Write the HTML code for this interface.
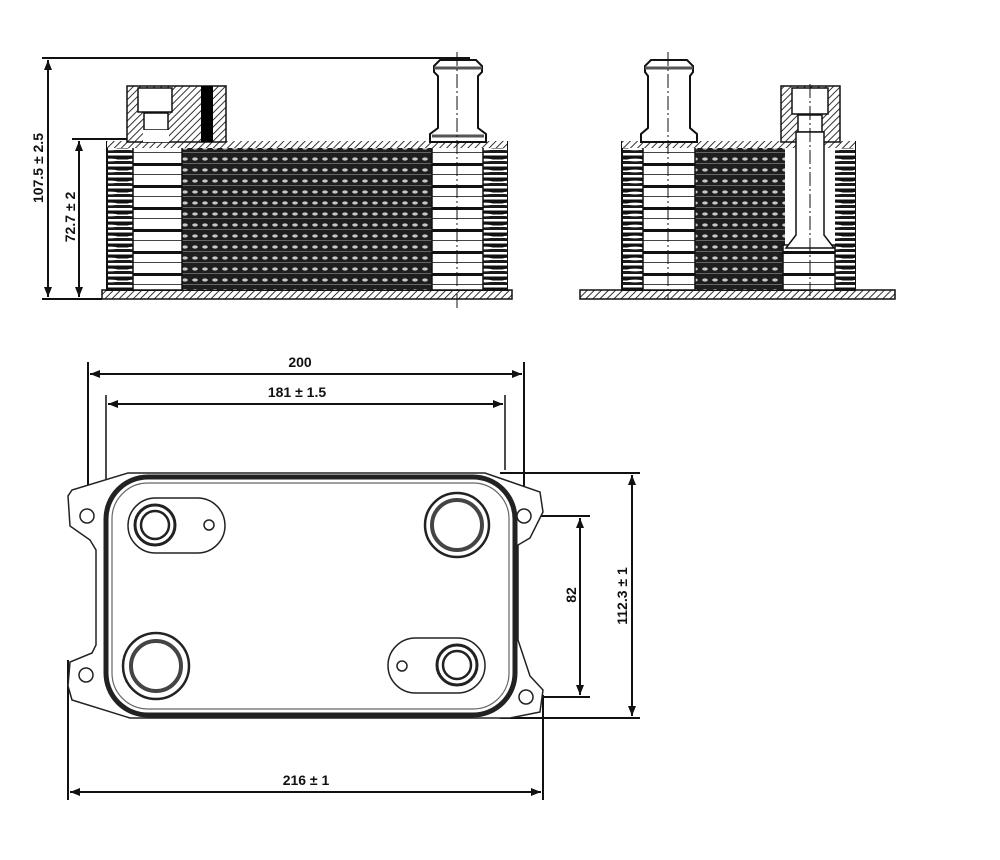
<!DOCTYPE html>
<html><head><meta charset="utf-8"><style>
html,body{margin:0;padding:0;background:#fff;}
svg{display:block;}
text{font-family:"Liberation Sans",Arial,sans-serif;font-weight:bold;font-size:14px;fill:#111;}
</style></head><body>
<svg width="1000" height="860" viewBox="0 0 1000 860" xmlns="http://www.w3.org/2000/svg">
<defs>
<pattern id="hatch" width="5" height="5" patternUnits="userSpaceOnUse" patternTransform="rotate(45)">
<rect width="5" height="5" fill="#fff"/><line x1="0" y1="0" x2="0" y2="5" stroke="#333" stroke-width="2"/></pattern>
<pattern id="fin" width="10" height="11" patternUnits="userSpaceOnUse">
<rect width="10" height="11" fill="#1e1e1e"/>
<ellipse cx="5" cy="5" rx="2.8" ry="1.6" fill="#c8c8c8"/>
<rect x="0" y="9" width="10" height="1" fill="#666"/></pattern>
<pattern id="edge" width="25" height="11" patternUnits="userSpaceOnUse">
<rect width="25" height="11" fill="#fff"/>
<rect x="0" y="1.5" width="25" height="4" fill="#111"/>
<rect x="0" y="7" width="25" height="3" fill="#1a1a1a"/>
<ellipse cx="10" cy="6" rx="8" ry="1.4" fill="#fff"/></pattern>
<pattern id="col" width="60" height="22" patternUnits="userSpaceOnUse">
<rect width="60" height="22" fill="#fff"/>
<rect x="0" y="9" width="60" height="3" fill="#111"/>
<rect x="0" y="20" width="60" height="1" fill="#444"/></pattern>
<marker id="a" viewBox="0 0 10 8" refX="10" refY="4" markerWidth="14" markerHeight="8" markerUnits="userSpaceOnUse" orient="auto-start-reverse">
<path d="M0,0 L10,4 L0,8 Z" fill="#111"/></marker>
</defs>

<!-- LEFT SIDE VIEW -->
<line x1="42" y1="58" x2="470" y2="58" stroke="#111" stroke-width="2"/>
<line x1="42" y1="299" x2="102" y2="299" stroke="#111" stroke-width="2"/>
<line x1="72" y1="139" x2="128" y2="139" stroke="#111" stroke-width="2"/>
<line x1="48" y1="60" x2="48" y2="297" stroke="#111" stroke-width="2" marker-start="url(#a)" marker-end="url(#a)"/>
<line x1="79" y1="141" x2="79" y2="297" stroke="#111" stroke-width="2" marker-start="url(#a)" marker-end="url(#a)"/>
<text transform="translate(43,168) rotate(-90)" text-anchor="middle">107.5 ± 2.5</text>
<text transform="translate(75,217) rotate(-90)" text-anchor="middle">72.7 ± 2</text>

<rect x="102" y="290" width="410" height="9" fill="url(#hatch)" stroke="#111" stroke-width="1.5"/>
<rect x="107" y="142" width="400" height="148" fill="#fff" stroke="#111" stroke-width="2"/>
<rect x="182" y="148" width="250" height="142" fill="url(#fin)"/>
<rect x="108" y="148" width="25" height="142" fill="url(#edge)"/>
<rect x="483" y="148" width="24" height="142" fill="url(#edge)"/>
<rect x="133" y="142" width="49" height="148" fill="url(#col)" stroke="#111" stroke-width="1.5"/>
<rect x="432" y="142" width="51" height="148" fill="url(#col)" stroke="#111" stroke-width="1.5"/>
<rect x="107" y="141" width="400" height="7" fill="url(#hatch)"/>
<rect x="127" y="86" width="99" height="56" fill="url(#hatch)" stroke="#111" stroke-width="1.5"/>
<rect x="138" y="88" width="34" height="24" fill="#fff" stroke="#111" stroke-width="1.5"/>
<rect x="144" y="113" width="24" height="17" fill="#fff" stroke="#111" stroke-width="1.5"/>
<rect x="143" y="130" width="26" height="12" fill="#fff"/>
<rect x="201" y="86" width="12" height="56" fill="#000"/>
<path d="M434,66 L440,60 L476,60 L482,66 L482,72 L478,76 L478,128 L486,134 L486,142 L430,142 L430,134 L438,128 L438,76 L434,72 Z" fill="#fff" stroke="#111" stroke-width="2"/>
<line x1="434" y1="68" x2="482" y2="68" stroke="#555" stroke-width="3"/>
<line x1="432" y1="136" x2="484" y2="136" stroke="#555" stroke-width="3"/>
<line x1="457" y1="52" x2="457" y2="310" stroke="#111" stroke-width="1" stroke-dasharray="14,3,2,3"/>

<!-- RIGHT SIDE VIEW -->
<rect x="580" y="290" width="315" height="9" fill="url(#hatch)" stroke="#111" stroke-width="1.5"/>
<rect x="622" y="142" width="233" height="148" fill="#fff" stroke="#111" stroke-width="2"/>
<rect x="695" y="148" width="90" height="142" fill="url(#fin)"/>
<rect x="623" y="148" width="20" height="142" fill="url(#edge)"/>
<rect x="835" y="148" width="20" height="142" fill="url(#edge)"/>
<rect x="643" y="142" width="52" height="148" fill="url(#col)" stroke="#111" stroke-width="1.5"/>
<rect x="783" y="245" width="52" height="45" fill="url(#col)" stroke="#111" stroke-width="1.5"/>
<rect x="622" y="141" width="233" height="7" fill="url(#hatch)"/>
<path d="M645,66 L651,60 L687,60 L693,66 L693,72 L690,76 L690,128 L697,134 L697,142 L641,142 L641,134 L648,128 L648,76 L645,72 Z" fill="#fff" stroke="#111" stroke-width="2"/>
<line x1="645" y1="68" x2="693" y2="68" stroke="#555" stroke-width="3"/>
<line x1="668" y1="52" x2="668" y2="300" stroke="#111" stroke-width="1" stroke-dasharray="14,3,2,3"/>
<rect x="781" y="86" width="59" height="56" fill="url(#hatch)" stroke="#111" stroke-width="1.5"/>
<rect x="792" y="88" width="36" height="26" fill="#fff" stroke="#111" stroke-width="1.5"/>
<rect x="798" y="115" width="24" height="17" fill="#fff" stroke="#111" stroke-width="1.5"/>
<path d="M796,132 L824,132 L824,235 L834,248 L786,248 L796,235 Z" fill="#fff" stroke="#111" stroke-width="1.5"/>
<line x1="810" y1="84" x2="810" y2="300" stroke="#111" stroke-width="1" stroke-dasharray="14,3,2,3"/>

<!-- BOTTOM VIEW dims -->
<line x1="88" y1="362" x2="88" y2="508" stroke="#111" stroke-width="2"/>
<line x1="524" y1="362" x2="524" y2="508" stroke="#111" stroke-width="2"/>
<line x1="90" y1="374" x2="522" y2="374" stroke="#111" stroke-width="2" marker-start="url(#a)" marker-end="url(#a)"/>
<text x="300" y="367" text-anchor="middle">200</text>
<line x1="106" y1="395" x2="106" y2="590" stroke="#111" stroke-width="1.5"/>
<line x1="505" y1="395" x2="505" y2="470" stroke="#111" stroke-width="1.5"/>
<line x1="108" y1="404" x2="503" y2="404" stroke="#111" stroke-width="2" marker-start="url(#a)" marker-end="url(#a)"/>
<text x="297" y="397" text-anchor="middle">181 ± 1.5</text>
<line x1="68" y1="660" x2="68" y2="800" stroke="#111" stroke-width="2"/>
<line x1="543" y1="695" x2="543" y2="800" stroke="#111" stroke-width="2"/>
<line x1="70" y1="792" x2="541" y2="792" stroke="#111" stroke-width="2" marker-start="url(#a)" marker-end="url(#a)"/>
<text x="306" y="785" text-anchor="middle">216 ± 1</text>
<line x1="530" y1="516" x2="590" y2="516" stroke="#111" stroke-width="2"/>
<line x1="530" y1="697" x2="590" y2="697" stroke="#111" stroke-width="2"/>
<line x1="580" y1="518" x2="580" y2="695" stroke="#111" stroke-width="2" marker-start="url(#a)" marker-end="url(#a)"/>
<text transform="translate(576,595) rotate(-90)" text-anchor="middle">82</text>
<line x1="500" y1="473" x2="640" y2="473" stroke="#111" stroke-width="2"/>
<line x1="500" y1="718" x2="640" y2="718" stroke="#111" stroke-width="2"/>
<line x1="632" y1="475" x2="632" y2="716" stroke="#111" stroke-width="2" marker-start="url(#a)" marker-end="url(#a)"/>
<text transform="translate(627,596) rotate(-90)" text-anchor="middle">112.3 ± 1</text>

<path d="M128,473 L485,473 L540,492 L543,512 L530,538 L518,545 L518,640 L530,676 L543,690 L540,712 L510,718 L130,718 L72,700 L68,686 L70,662 L92,653 L96,645 L96,550 L90,540 L70,526 L68,496 L72,490 Z" fill="#fff" stroke="#222" stroke-width="1.5"/>
<rect x="106" y="477" width="409" height="238" rx="42" fill="#fff" stroke="#222" stroke-width="5"/>
<rect x="112" y="483" width="397" height="226" rx="36" fill="none" stroke="#666" stroke-width="1.2"/>
<circle cx="87" cy="516" r="7" fill="#fff" stroke="#222" stroke-width="1.5"/>
<circle cx="524" cy="516" r="7" fill="#fff" stroke="#222" stroke-width="1.5"/>
<circle cx="86" cy="675" r="7" fill="#fff" stroke="#222" stroke-width="1.5"/>
<circle cx="526" cy="697" r="7" fill="#fff" stroke="#222" stroke-width="1.5"/>
<rect x="128" y="498" width="97" height="55" rx="27.5" fill="none" stroke="#222" stroke-width="1.5"/>
<circle cx="155" cy="525" r="20" fill="none" stroke="#222" stroke-width="3"/>
<circle cx="155" cy="525" r="14" fill="none" stroke="#222" stroke-width="2.5"/>
<circle cx="209" cy="525" r="5" fill="none" stroke="#222" stroke-width="1.5"/>
<circle cx="457" cy="525" r="32" fill="none" stroke="#222" stroke-width="2.5"/>
<circle cx="457" cy="525" r="25" fill="none" stroke="#444" stroke-width="4"/>
<circle cx="156" cy="666" r="33" fill="none" stroke="#222" stroke-width="2.5"/>
<circle cx="156" cy="666" r="25" fill="none" stroke="#444" stroke-width="4"/>
<rect x="388" y="638" width="97" height="55" rx="27.5" fill="none" stroke="#222" stroke-width="1.5"/>
<circle cx="457" cy="665" r="20" fill="none" stroke="#222" stroke-width="3"/>
<circle cx="457" cy="665" r="14" fill="none" stroke="#222" stroke-width="2.5"/>
<circle cx="402" cy="666" r="5" fill="none" stroke="#222" stroke-width="1.5"/>
</svg>
</body></html>
